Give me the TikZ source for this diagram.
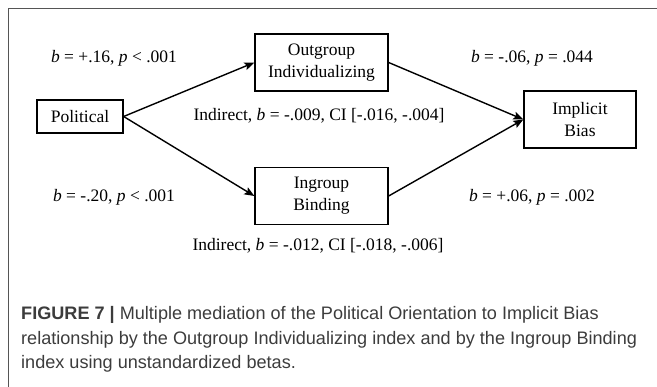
\documentclass[tikz,border=0pt]{standalone}
\usepackage{fontspec}
\setmainfont{Liberation Serif}
\newfontfamily\capfont{Liberation Sans}
\usetikzlibrary{arrows.meta}
\definecolor{captext}{HTML}{3C3C3C}
\definecolor{frameline}{HTML}{555555}
\tikzset{
  box/.style={draw=black, line width=1.3pt, inner sep=0pt, align=center,
    font=\fontsize{17.5}{22}\selectfont},
  lbl/.style={inner sep=0pt, font=\fontsize{17.5}{21}\selectfont},
  arr/.style={line width=1.4pt, -{Stealth[length=10pt,width=8pt,inset=2pt]}},
  captionline/.style={inner sep=0pt, anchor=base west, text=captext,
    font=\capfont\fontsize{18.1}{25}\selectfont},
}
\begin{document}
\begin{tikzpicture}[x=1pt,y=-1pt]
\useasboundingbox (0,0) rectangle (657,387);
\draw[frameline, line width=1pt] (657,9) -- (8,9) -- (8,387);

\node[box, minimum width=86pt, minimum height=33pt] (pol) at (80,116.5) {Political};
\node[box, minimum width=133pt, minimum height=57pt] (out) at (321.5,62.5) {Outgroup\\Individualizing};
\node[box, minimum width=133pt, minimum height=57pt] (in) at (321.5,196) {Ingroup\\Binding};
\node[box, minimum width=112pt, minimum height=57pt] (imp) at (580,119.5) {Implicit\\Bias};

\draw[arr] (pol.east) -- (out.west);
\draw[arr] (pol.east) -- (in.west);
\draw[arr] (out.east) -- (imp.west);
\draw[arr] (in.east) -- (imp.west);

\node[lbl] (l1) at (114,58) {\textit{b} = +.16, \textit{p} < .001};
\node[lbl] (l2) at (532,58) {\textit{b} = -.06, \textit{p} = .044};
\node[lbl] (l3) at (319,116) {Indirect, \textit{b} = -.009, CI [-.016, -.004]};
\node[lbl] (l4) at (114,197) {\textit{b} = -.20, \textit{p} < .001};
\node[lbl] (l5) at (532,197) {\textit{b} = +.06, \textit{p} = .002};
\node[lbl] (l6) at (318,246) {Indirect, \textit{b} = -.012, CI [-.018, -.006]};

\node[captionline] (c1) at (21,320) {\textbf{FIGURE 7 |} Multiple mediation of the Political Orientation to Implicit Bias};
\node[captionline] (c2) at (21,345) {relationship by the Outgroup Individualizing index and by the Ingroup Binding};
\node[captionline] (c3) at (21,369) {index using unstandardized betas.};
\end{tikzpicture}
\end{document}
